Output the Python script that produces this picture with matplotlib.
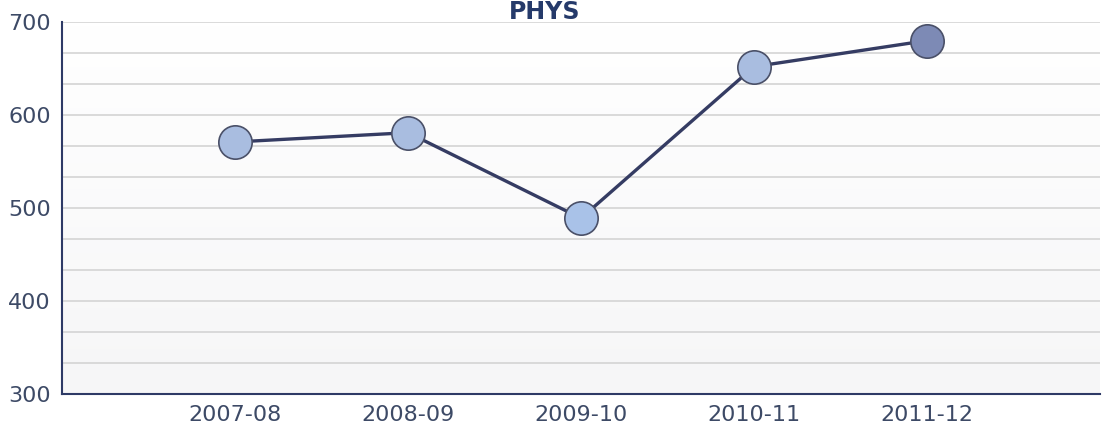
import matplotlib.pyplot as plt
import numpy as np
from matplotlib.colors import LinearSegmentedColormap

years = ['2007-08', '2008-09', '2009-10', '2010-11', '2011-12']
values = [571, 581, 489, 652, 680]
marker_colors = ['#a9bde0', '#a9bde0', '#a9c2e8', '#a9bde0', '#7d8ab5']

fig = plt.figure(figsize=(11.11, 4.33), dpi=100)
ax = fig.add_axes([62 / 1111, 1 - 394 / 433, 1038 / 1111, 372 / 433])

# faint background shading toward the bottom
bg = LinearSegmentedColormap.from_list('bg', ['#f6f6f7', '#ffffff'])
grad = np.linspace(0, 1, 100).reshape(-1, 1)
ax.imshow(grad, extent=[-1, 5, 300, 700], aspect='auto', cmap=bg,
          zorder=0, origin='lower')

x = np.arange(len(years))
for yv in np.arange(300, 701, 100 / 3):
    ax.axhline(yv, color='#d4d4d4', lw=1.2, zorder=1)

ax.plot(x, values, color='#353c63', lw=2.4, zorder=2)
for xi, v, c in zip(x, values, marker_colors):
    ax.plot(xi, v, 'o', ms=24, mfc=c, mec='#4a5068', mew=1.2, zorder=3)

ax.set_xlim(-1, 5)
ax.set_ylim(300, 700)
ax.set_xticks(x)
ax.set_xticklabels(years)
ax.set_yticks([300, 400, 500, 600, 700])
ax.tick_params(length=0, labelsize=16, labelcolor='#3d4a66', pad=8)

for s in ['top', 'right']:
    ax.spines[s].set_visible(False)
ax.spines['left'].set_color('#2e3a66')
ax.spines['bottom'].set_color('#2e3a66')
ax.spines['left'].set_linewidth(1.5)
ax.spines['bottom'].set_linewidth(1.5)

fig.text(545 / 1111, 1 - 19 / 433, 'PHYS', ha='center', va='baseline',
         fontsize=17, fontweight='bold', color='#253a6a')

fig.savefig('out.png', dpi=100)
